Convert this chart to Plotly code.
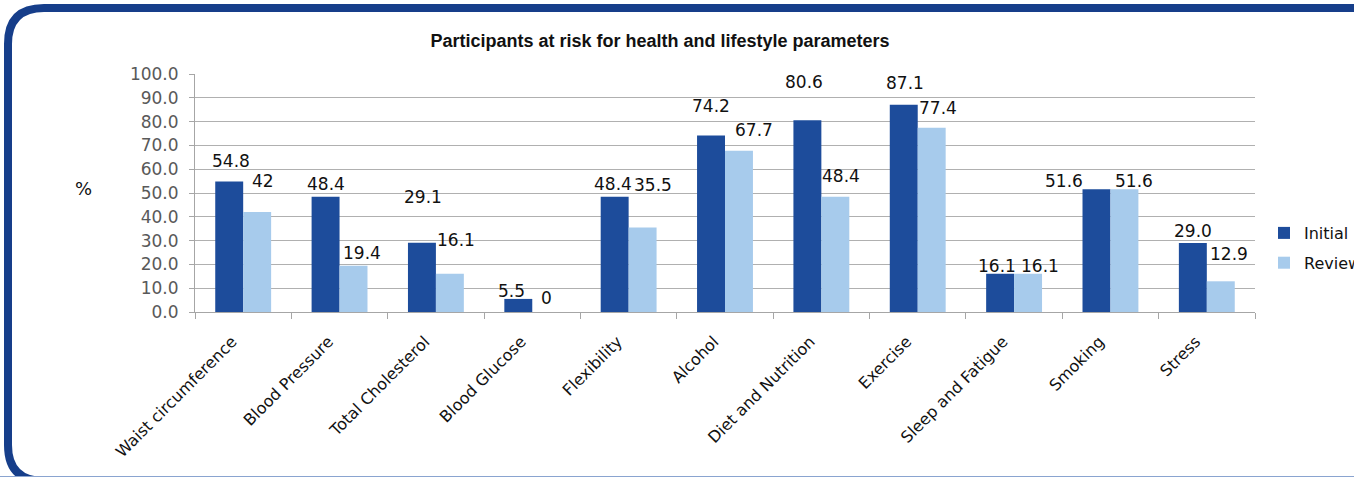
import plotly.graph_objects as go

categories = ["Waist circumference", "Blood Pressure", "Total Cholesterol", "Blood Glucose",
              "Flexibility", "Alcohol", "Diet and Nutrition", "Exercise",
              "Sleep and Fatigue", "Smoking", "Stress"]
initial = [54.8, 48.4, 29.1, 5.5, 48.4, 74.2, 80.6, 87.1, 16.1, 51.6, 29.0]
review = [42, 19.4, 16.1, 0, 35.5, 67.7, 48.4, 77.4, 16.1, 51.6, 12.9]
initial_labels = ["54.8", "48.4", "29.1", "5.5", "48.4", "74.2", "80.6", "87.1", "16.1", "51.6", "29.0"]
review_labels = ["42", "19.4", "16.1", "0", "35.5", "67.7", "48.4", "77.4", "16.1", "51.6", "12.9"]
y_ticks = [0, 10, 20, 30, 40, 50, 60, 70, 80, 90, 100]

# label placement offsets (pixels, relative to bar top centre) as in the original chart
init_dx = [2, 0, 1, -7, -2, 0, -3, 1, -3, -32, 0]
init_dy = [21, 13, 46, 8, 13, 29, 38, 22, 8, 8, 12]
rev_dx = [6, 8, 6, 0, 10, 15, 6, 6, 12, 10, 8]
rev_dy = [31, 13, 34, 14, 43, 21, 21, 20, 8, 8, 27]

W, H = 1354, 477
L, R, T, B = 195, 1255, 74, 312
HALF_BAR = 14


def px(x):
    return (x - L) / (R - L)


def py(y):
    return (B - y) / (B - T)


DARK = "#1d4c9b"
LIGHT = "#a7cbec"
FONT = "DejaVu Sans"

fig = go.Figure()
fig.add_trace(go.Bar(name="Initial", x=categories, y=initial,
                     marker=dict(color=DARK, line=dict(width=0)),
                     legendgroup="a"))
fig.add_trace(go.Bar(name="Review", x=categories, y=review,
                     marker=dict(color=LIGHT, line=dict(width=0)),
                     legendgroup="b"))

annotations = []
for cat, v, t, dx, dy in zip(categories, initial, initial_labels, init_dx, init_dy):
    annotations.append(dict(x=cat, y=v, xref="x", yref="y", text=t, showarrow=False,
                            xanchor="center", yanchor="middle",
                            xshift=-HALF_BAR + dx, yshift=dy,
                            font=dict(family=FONT, size=17, color="#111111")))
for cat, v, t, dx, dy in zip(categories, review, review_labels, rev_dx, rev_dy):
    annotations.append(dict(x=cat, y=v, xref="x", yref="y", text=t, showarrow=False,
                            xanchor="center", yanchor="middle",
                            xshift=HALF_BAR + dx, yshift=dy,
                            font=dict(family=FONT, size=17, color="#111111")))
annotations.append(dict(text="%", x=px(83), y=py(188), xref="paper", yref="paper",
                        showarrow=False, xanchor="center", yanchor="middle",
                        font=dict(family=FONT, size=18, color="#111111")))

# rounded frame
rad = 36
x0, y0, y1, xr = 8, 8, 481, 1420
path = (f"M {px(xr)},{py(y0)} L {px(x0 + rad)},{py(y0)} "
        f"Q {px(x0)},{py(y0)} {px(x0)},{py(y0 + rad)} "
        f"L {px(x0)},{py(y1 - rad)} "
        f"Q {px(x0)},{py(y1)} {px(x0 + rad)},{py(y1)} "
        f"L {px(xr)},{py(y1)}")

fig.update_layout(
    width=W, height=H,
    margin=dict(l=L, r=W - R, t=T, b=H - B, autoexpand=False),
    paper_bgcolor="white", plot_bgcolor="white",
    barmode="group", bargap=0.42, bargroupgap=0,
    showlegend=True,
    legend=dict(x=px(1264), y=py(216), xanchor="left", yanchor="top",
                font=dict(family=FONT, size=16, color="#111111"),
                traceorder="grouped", tracegroupgap=6,
                bgcolor="rgba(0,0,0,0)"),
    title=dict(text="<b>Participants at risk for health and lifestyle parameters</b>",
               x=660 / W, xanchor="center", y=1 - 41 / H, yanchor="middle",
               xref="container", yref="container",
               font=dict(family="Liberation Sans", size=18, color="#111111")),
    xaxis=dict(showgrid=False, showline=True, linecolor="#a6a6a6", linewidth=1,
               ticks="outside", ticklen=6, tickcolor="#a6a6a6", tickson="boundaries",
               tickangle=-45, tickfont=dict(family=FONT, size=16, color="#111111"),
               ticklabelstandoff=13, ticklabelshift=-11, automargin=False),
    yaxis=dict(range=[0, 100], tickvals=y_ticks, tickformat=".1f",
               showgrid=True, gridcolor="#b0b0b0", gridwidth=1,
               showline=True, linecolor="#a6a6a6", linewidth=1,
               ticks="outside", ticklen=5, tickcolor="#a6a6a6",
               tickfont=dict(family=FONT, size=17, color="#595959"),
               ticklabelstandoff=7, zeroline=False, automargin=False),
    annotations=annotations,
    shapes=[dict(type="path", path=path, xref="paper", yref="paper",
                 line=dict(color="#163e8a", width=8)),
            dict(type="line", xref="paper", yref="paper",
                 x0=px(0), x1=px(W), y0=py(476.5), y1=py(476.5),
                 line=dict(color="#8aa4d0", width=1))],
)

fig.write_html("out.html", config={"displayModeBar": False},
               post_script="document.body.style.margin='0';document.body.style.overflow='hidden';")
